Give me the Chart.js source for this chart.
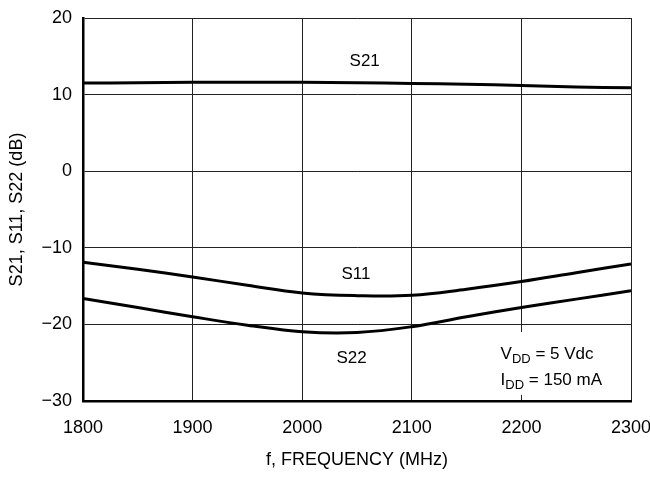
<!DOCTYPE html>
<html>
<head>
<meta charset="utf-8">
<title>S21, S11, S22 vs Frequency</title>
<script src="https://cdn.jsdelivr.net/npm/chart.js@4.4.1/dist/chart.umd.min.js"></script>
<style>
    body { margin: 0; background: #fff; }
    #s_params { display: block; }
</style>
</head>
<body>
<canvas id="s_params" width="650" height="479"></canvas>
<script>
// frequency points (MHz) and readings (dB) taken off the curves
var freqs = [1800, 1850, 1900, 1950, 2000, 2050, 2100, 2150, 2200, 2250, 2300];
var s21 = [11.5, 11.55, 11.6, 11.6, 11.6, 11.55, 11.45, 11.35, 11.2, 11.0, 10.9];
var s11 = [-11.9, -12.8, -13.8, -14.9, -15.9, -16.25, -16.2, -15.4, -14.4, -13.25, -12.1];
var s22 = [-16.6, -17.8, -19.0, -20.1, -20.95, -21.05, -20.3, -19.0, -17.8, -16.7, -15.6];

var xTicks = [1800, 1900, 2000, 2100, 2200, 2300];
var yTicks = [-30, -20, -10, 0, 10, 20];

// curve labels, placed in data units
var curveLabels = [
    { text: "S21", x: 2057, y: 14.3 },
    { text: "S11", x: 2049, y: -13.4 },
    { text: "S22", x: 2045, y: -24.4 }
];

var FONT = "'Liberation Sans', Arial, sans-serif";

function to_points(xs, ys) {
    var pts = [];
    for (var i = 0; i < xs.length; i += 1) {
        pts.push({ x: xs[i], y: ys[i] });
    }
    return pts;
}

function draw_sub(ctx, x, y, parts) {
    // parts: [text, isSubscript]
    for (var i = 0; i < parts.length; i += 1) {
        if (parts[i][1]) {
            ctx.font = "13px " + FONT;
            ctx.fillText(parts[i][0], x, y + 5);
        } else {
            ctx.font = "17px " + FONT;
            ctx.fillText(parts[i][0], x, y);
        }
        x += ctx.measureText(parts[i][0]).width;
    }
}

var notes = {
    id: "notes",
    beforeDatasetsDraw: function (chart) {
        var ctx = chart.ctx;
        var xs = chart.scales.x;
        var ys = chart.scales.y;
        ctx.save();
        // conditions box blanks the grid behind it
        ctx.fillStyle = "#fff";
        ctx.fillRect(xs.getPixelForValue(2175), ys.getPixelForValue(-21.0),
            xs.getPixelForValue(2287) - xs.getPixelForValue(2175),
            ys.getPixelForValue(-29.2) - ys.getPixelForValue(-21.0));
        ctx.fillStyle = "#000";
        ctx.textBaseline = "middle";
        ctx.textAlign = "left";
        var bx = xs.getPixelForValue(2181);
        draw_sub(ctx, bx, ys.getPixelForValue(-23.9), [["V", false], ["DD", true], [" = 5 Vdc", false]]);
        draw_sub(ctx, bx, ys.getPixelForValue(-27.3), [["I", false], ["DD", true], [" = 150 mA", false]]);
        ctx.restore();
    },
    afterDatasetsDraw: function (chart) {
        var ctx = chart.ctx;
        ctx.save();
        ctx.fillStyle = "#000";
        ctx.font = "17px " + FONT;
        ctx.textAlign = "center";
        ctx.textBaseline = "middle";
        for (var i = 0; i < curveLabels.length; i += 1) {
            var l = curveLabels[i];
            ctx.fillText(l.text, chart.scales.x.getPixelForValue(l.x), chart.scales.y.getPixelForValue(l.y));
        }
        ctx.restore();
    }
};

function create_chart() {
    var ctx = document.getElementById("s_params");
    var lineStyle = {
        borderColor: "#000",
        borderWidth: 3,
        pointRadius: 0,
        fill: false,
        tension: 0.4
    };
    var sets = [
        { label: "S21", data: to_points(freqs, s21) },
        { label: "S11", data: to_points(freqs, s11) },
        { label: "S22", data: to_points(freqs, s22) }
    ];
    for (var i = 0; i < sets.length; i += 1) {
        Object.assign(sets[i], lineStyle);
    }

    var myChart = new Chart(ctx, {
        type: "line",
        data: { datasets: sets },
        plugins: [notes],
        options: {
            responsive: false,
            animation: false,
            layout: { padding: { left: 0, right: 19, top: 18, bottom: 0 } },
            plugins: {
                legend: { display: false },
                tooltip: { enabled: false }
            },
            scales: {
                x: {
                    type: "linear",
                    min: 1800,
                    max: 2300,
                    afterBuildTicks: function (scale) {
                        scale.ticks = xTicks.map(function (v) { return { value: v }; });
                    },
                    afterFit: function (scale) {
                        scale.height = 78;
                        scale.paddingLeft = 0;
                        scale.paddingRight = 0;
                    },
                    grid: { color: "#222", lineWidth: 1, drawTicks: false },
                    border: { color: "#000", width: 2.5 },
                    ticks: {
                        color: "#000",
                        padding: 16,
                        maxRotation: 0,
                        font: { family: FONT, size: 18 },
                        callback: function (v) { return String(v); }
                    },
                    title: {
                        display: true,
                        text: "f, FREQUENCY (MHz)",
                        color: "#000",
                        padding: { top: 0, bottom: 8 },
                        font: { family: FONT, size: 18 }
                    }
                },
                y: {
                    min: -30,
                    max: 20,
                    afterBuildTicks: function (scale) {
                        scale.ticks = yTicks.map(function (v) { return { value: v }; });
                    },
                    afterFit: function (scale) {
                        scale.width = 83;
                        scale.paddingTop = 0;
                        scale.paddingBottom = 0;
                    },
                    grid: { color: "#222", lineWidth: 1, drawTicks: false },
                    border: { color: "#000", width: 2.5 },
                    ticks: {
                        color: "#000",
                        padding: 11,
                        font: { family: FONT, size: 18 },
                        callback: function (v) { return v < 0 ? "\u2212" + Math.abs(v) : String(v); }
                    },
                    title: {
                        display: true,
                        text: "S21, S11, S22 (dB)",
                        color: "#000",
                        padding: { top: 6, bottom: 0 },
                        font: { family: FONT, size: 18 }
                    }
                }
            }
        }
    });
}

create_chart();
</script>
</body>
</html>
